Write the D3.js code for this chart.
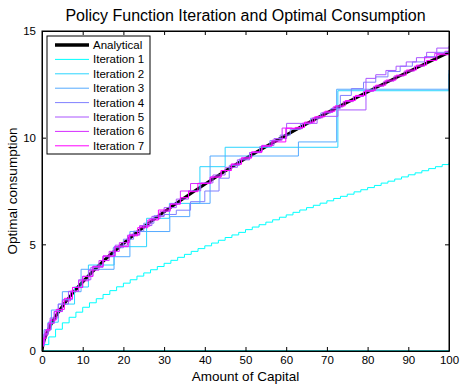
<!DOCTYPE html>
<html>
<head>
<meta charset="utf-8">
<script src="https://cdn.jsdelivr.net/npm/d3@7"></script>
<style>
body { margin: 0; background: #fff; }
text { font-family: "Liberation Sans", Arial, sans-serif; }
</style>
</head>
<body>
<div id="chart"></div>
<script>
var svgWidth = 462;
var svgHeight = 384;
var margin = { top: 31, right: 13, bottom: 33, left: 42 };
var width = svgWidth - margin.left - margin.right;
var height = svgHeight - margin.top - margin.bottom;

// analytical policy
var anaK = [0, 0.25, 0.5, 1, 2, 3, 5, 7.5, 10, 15, 20, 25, 30, 40, 50, 60, 70, 80, 90, 100];
var anaC = [0, 0.31, 0.48, 0.75, 1.17, 1.51, 2.09, 2.70, 3.24, 4.20, 5.04, 5.81, 6.52, 7.82, 9.02, 10.12, 11.16, 12.15, 13.09, 14.0];

// iteration 1: fine staircase, one value per grid step of 5/3
var iter1C = [0.3, 0.66, 1.02, 1.32, 1.58, 1.82, 2.05, 2.26, 2.45, 2.65, 2.83,
  3.01, 3.18, 3.34, 3.51, 3.66, 3.81, 3.96, 4.11, 4.25, 4.39,
  4.53, 4.67, 4.80, 4.93, 5.06, 5.19, 5.32, 5.44, 5.56, 5.69,
  5.81, 5.92, 6.04, 6.15, 6.27, 6.38, 6.50, 6.61, 6.72, 6.83,
  6.93, 7.04, 7.15, 7.25, 7.35, 7.46, 7.56, 7.66, 7.76, 7.87,
  7.96, 8.06, 8.16, 8.26, 8.35, 8.45, 8.55, 8.64, 8.74, 8.83];
var iter1K = d3.range(iter1C.length).map(function(i) { return i * 100 / (iter1C.length - 1); });

// each later iteration: break points (k) and the level held after each break
var iter2K = [0, 0.5, 1.5, 4, 8, 11.4, 17.7, 25.7, 31.3, 38.8, 45, 72.7, 100];
var iter2C = [0.25, 0.8, 1.35, 2.2, 3.0, 4.03, 4.89, 6.22, 6.92, 8.64, 9.55, 12.2, 13.0];

var iter3K = [0, 0.5, 2.3, 5, 9.6, 17.7, 21.6, 31.4, 36.3, 41.3, 63, 72.4, 100];
var iter3C = [0.3, 1.0, 1.92, 2.78, 3.83, 4.42, 5.6, 6.30, 6.92, 9.14, 9.8, 12.27, 13.17];

var iter4K = [0, 0.5, 1.5, 3, 5, 7.5, 10, 12.5, 15, 17.5, 20, 22.5, 25, 27.5, 30, 33, 36.5, 40, 43.5, 46,
  48.5, 51, 53.5, 56, 58.5, 61, 63.5, 66, 68.5, 71, 73.3, 76, 79, 82, 85, 88, 91, 94, 97, 100];
var iter4C = [0.3, 0.75, 1.3, 1.85, 2.41, 2.98, 3.50, 3.97, 4.42, 4.84, 5.24, 5.62, 5.99, 6.34, 6.4, 6.6, 7.0, 7.5, 8.1, 8.70,
  9.0, 9.30, 9.58, 9.86, 10.12, 10.39, 10.65, 10.91, 11.16, 11.37, 11.98, 12.3, 12.6, 12.85, 13.1, 13.35, 13.55, 13.8, 14.0, 14.0];

var iter5K = [0, 0.7, 2, 4, 6.5, 9, 12, 15, 18, 21, 24, 27, 30, 33, 36, 39, 42, 45, 48, 51,
  54, 57, 60.1, 67.6, 72.7, 79.6, 82, 84.5, 87, 89.5, 92, 94.5, 97, 100];
var iter5C = [0.35, 0.95, 1.55, 2.2, 2.8, 3.34, 3.92, 4.46, 4.96, 5.43, 5.88, 6.31, 6.72, 7.12, 7.51, 7.88, 8.25, 8.61, 8.96, 9.30,
  9.64, 9.96, 10.67, 11.0, 11.3, 12.78, 12.95, 13.15, 13.35, 13.55, 13.75, 14.0, 14.2, 14.3];

var iter6K = [0, 0.5, 1.5, 3, 5, 7, 9, 11.5, 14, 16.5, 19, 21.5, 24, 26.5, 29, 31.5, 34, 36.5, 39, 41.5,
  44, 46.5, 49, 51.5, 54, 56.5, 59, 61.5, 64, 66.5, 69, 71.5, 74, 76.5, 79, 81.5, 84, 86.5, 89, 91.5,
  94, 96.5, 99, 100];
var iter6C = [0.3, 0.8, 1.3, 1.85, 2.35, 2.81, 3.29, 3.79, 4.24, 4.67, 5.08, 5.47, 5.85, 6.2, 6.55, 6.89, 7.5, 7.85, 7.85, 8.16,
  8.46, 8.76, 9.05, 9.33, 9.61, 9.88, 10.45, 10.42, 10.68, 10.93, 11.19, 11.44, 11.69, 11.93, 12.17, 12.41, 12.65, 12.89, 13.12, 13.35,
  13.75, 13.95, 14.05, 14.1];

var iter7K = [0, 0.3, 1, 2, 3.5, 5.5, 7.5, 10, 12.5, 15, 17.9, 21.2, 23.5, 26, 28.6, 31.5, 34, 36, 38.3, 41.3,
  44, 46.5, 49, 51.5, 54, 56.5, 59.9, 62.2, 64.5, 67, 69.5, 72, 74.5, 77, 79.5, 82, 84.5, 87, 89.5, 92,
  94.5, 97, 100];
var iter7C = [0.2, 0.6, 1.0, 1.45, 1.95, 2.47, 2.98, 3.50, 3.97, 4.45, 4.89, 5.4, 5.78, 6.14, 6.61, 6.89, 7.19, 7.47, 7.86, 8.15,
  8.46, 8.76, 9.05, 9.33, 9.61, 9.8, 10.44, 10.48, 10.73, 10.98, 11.24, 11.49, 11.74, 11.98, 12.22, 12.46, 12.70, 12.93, 13.17, 13.40,
  13.62, 13.89, 14.0];

var seriesNames = ["Iteration 1", "Iteration 2", "Iteration 3", "Iteration 4", "Iteration 5", "Iteration 6", "Iteration 7"];
var seriesColors = ["#00ffff", "#2bd5ff", "#55aaff", "#8080ff", "#aa55ff", "#d52bff", "#ff00ff"];
var xTicks = [0, 10, 20, 30, 40, 50, 60, 70, 80, 90, 100];
var yTicks = [0, 5, 10, 15];

var svg = d3.select("#chart")
    .append("svg")
    .attr("width", svgWidth)
    .attr("height", svgHeight);
var chart = svg.append("g")
    .attr("transform", `translate(${margin.left}, ${margin.top})`);

var x = d3.scaleLinear().domain([0, 100]).range([0, width]);
var y = d3.scaleLinear().domain([0, 15]).range([height, 0]);

svg.append("defs").append("clipPath").attr("id", "plotclip")
    .append("rect").attr("width", width).attr("height", height);

var plot = chart.append("g").attr("clip-path", "url(#plotclip)");

function zip(ks, cs) {
    return ks.map(function(k, i) { return { k: k, c: cs[i] }; });
}
var stepLine = d3.line().x(d => x(d.k)).y(d => y(d.c)).curve(d3.curveStepAfter);
var smoothLine = d3.line().x(d => x(d.k)).y(d => y(d.c)).curve(d3.curveMonotoneX);

// zero line (initial guess)
plot.append("path")
    .datum(zip([0, 100], [0, 0]))
    .attr("d", stepLine)
    .attr("fill", "none")
    .attr("stroke", seriesColors[0])
    .attr("stroke-width", 1.5);

plot.append("path")
    .datum(zip(anaK, anaC))
    .attr("d", smoothLine)
    .attr("fill", "none")
    .attr("stroke", "#000")
    .attr("stroke-width", 3);

var iters = [[iter1K, iter1C], [iter2K, iter2C], [iter3K, iter3C], [iter4K, iter4C],
             [iter5K, iter5C], [iter6K, iter6C], [iter7K, iter7C]];
iters.forEach(function(s, i) {
    plot.append("path")
        .datum(zip(s[0], s[1]))
        .attr("d", stepLine)
        .attr("fill", "none")
        .attr("stroke", seriesColors[i])
        .attr("stroke-width", 1);
});

// axes: box with inward ticks on all four sides
var bottomAxis = d3.axisBottom(x).tickValues(xTicks).tickSizeInner(-4).tickSizeOuter(0).tickPadding(5);
var topAxis = d3.axisTop(x).tickValues(xTicks).tickSizeInner(-4).tickSizeOuter(0).tickFormat("");
var leftAxis = d3.axisLeft(y).tickValues(yTicks).tickSizeInner(-4).tickSizeOuter(0).tickPadding(6);
var rightAxis = d3.axisRight(y).tickValues(yTicks).tickSizeInner(-4).tickSizeOuter(0).tickFormat("");

chart.append("g").attr("transform", `translate(0, ${height})`).call(bottomAxis);
chart.append("g").call(topAxis);
chart.append("g").call(leftAxis);
chart.append("g").attr("transform", `translate(${width}, 0)`).call(rightAxis);
chart.selectAll(".domain").attr("stroke", "#000");
chart.selectAll(".tick line").attr("stroke", "#000");
chart.selectAll(".tick text").attr("font-size", 11.5).attr("fill", "#000")
    .attr("font-family", "Liberation Sans, Arial, sans-serif");

chart.append("rect")
    .attr("width", width).attr("height", height)
    .attr("fill", "none").attr("stroke", "#000").attr("stroke-width", 1);

// legend
var legend = chart.append("g").attr("transform", "translate(5, 5)");
legend.append("rect")
    .attr("width", 103).attr("height", 118)
    .attr("fill", "#fff").attr("stroke", "#000");
var legendNames = ["Analytical"].concat(seriesNames);
var legendColors = ["#000"].concat(seriesColors);
legendNames.forEach(function(name, i) {
    var ly = 9 + i * 14.4;
    legend.append("line")
        .attr("x1", 8).attr("x2", 42).attr("y1", ly).attr("y2", ly)
        .attr("stroke", legendColors[i]).attr("stroke-width", i === 0 ? 3.5 : 1);
    legend.append("text")
        .attr("x", 46).attr("y", ly + 4)
        .attr("font-size", 11.5)
        .text(name);
});

// title and axis labels
svg.append("text")
    .attr("x", margin.left + width / 2).attr("y", 21)
    .attr("text-anchor", "middle").attr("font-size", 16)
    .text("Policy Function Iteration and Optimal Consumption");
svg.append("text")
    .attr("x", margin.left + width / 2).attr("y", 381)
    .attr("text-anchor", "middle").attr("font-size", 13.5)
    .text("Amount of Capital");
svg.append("text")
    .attr("transform", `translate(17, ${margin.top + height / 2}) rotate(-90)`)
    .attr("text-anchor", "middle").attr("font-size", 13.5)
    .text("Optimal consumption");
</script>
</body>
</html>
